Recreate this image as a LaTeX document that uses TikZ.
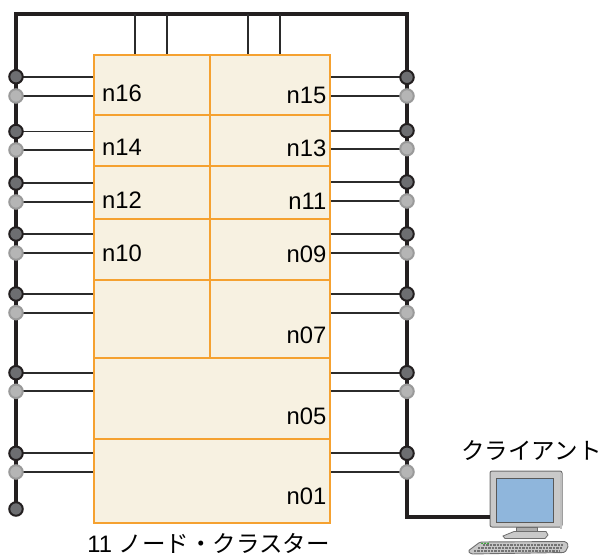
\documentclass[tikz,border=0pt]{standalone}
\usepackage{fontspec}
\setmainfont{Liberation Sans}
\newfontfamily\jpfont{Noto Sans CJK JP}
\definecolor{busc}{HTML}{231F20}
\definecolor{tapc}{HTML}{2B2B2B}
\definecolor{framec}{HTML}{F5A130}
\definecolor{creamc}{HTML}{F7F1E1}
\definecolor{dotdark}{HTML}{6D6E71}
\definecolor{dotlight}{HTML}{B5B5B5}
\definecolor{dotlightedge}{HTML}{9A9A9A}
\definecolor{bezel}{HTML}{C9C9C9}
\definecolor{bezeledge}{HTML}{6E6E6E}
\definecolor{screenc}{HTML}{8FB6DC}
\begin{document}
\begin{tikzpicture}[x=1pt,y=-1pt,
  bus/.style={draw=busc, line width=4.8pt, line join=miter},
  tap/.style={draw=tapc, line width=1.8pt},
  cell/.style={draw=framec, fill=creamc, line width=2.9pt, inner sep=0},
  darkdot/.style={circle, fill=dotdark, draw=busc, line width=2pt, minimum size=13.5pt, inner sep=0},
  lightdot/.style={circle, fill=dotlight, draw=dotlightedge, line width=2pt, minimum size=13.5pt, inner sep=0},
  lbl/.style={font=\fontsize{23.8}{28}\selectfont, inner sep=0},
  jp/.style={font=\fontsize{23.5}{28}\selectfont\jpfont, inner sep=0}]
\useasboundingbox (0,0) rectangle (603,556);

% ---- cluster cells ----
\node[cell, minimum width=116pt, minimum height=60pt] (c16) at (152,85) {};
\node[cell, minimum width=120pt, minimum height=60pt] (c15) at (270,85) {};
\node[cell, minimum width=116pt, minimum height=51pt] (c14) at (152,140.5) {};
\node[cell, minimum width=120pt, minimum height=51pt] (c13) at (270,140.5) {};
\node[cell, minimum width=116pt, minimum height=53pt] (c12) at (152,192.5) {};
\node[cell, minimum width=120pt, minimum height=53pt] (c11) at (270,192.5) {};
\node[cell, minimum width=116pt, minimum height=61pt] (c10) at (152,249.5) {};
\node[cell, minimum width=120pt, minimum height=61pt] (c09) at (270,249.5) {};
\node[cell, minimum width=116pt, minimum height=78pt] (c08) at (152,319) {};
\node[cell, minimum width=120pt, minimum height=78pt] (c07) at (270,319) {};
\node[cell, minimum width=236pt, minimum height=81pt] (c05) at (212,398.5) {};
\node[cell, minimum width=236pt, minimum height=84pt] (c01) at (212,481) {};

% ---- cell labels ----
\node[lbl, anchor=base west] (t16) at (102,102) {n16};
\node[lbl, anchor=base west] (t14) at (102,155.5) {n14};
\node[lbl, anchor=base west] (t12) at (102,208.5) {n12};
\node[lbl, anchor=base west] (t10) at (102,262) {n10};
\node[lbl, anchor=base east] (t15) at (326.5,103.5) {n15};
\node[lbl, anchor=base east] (t13) at (326.5,157) {n13};
\node[lbl, anchor=base east] (t11) at (326.5,210) {n11};
\node[lbl, anchor=base east] (t09) at (326.5,263) {n09};
\node[lbl, anchor=base east] (t07) at (326.5,344) {n07};
\node[lbl, anchor=base east] (t05) at (326.5,424) {n05};
\node[lbl, anchor=base east] (t01) at (326.5,504) {n01};

% ---- network bus ----
\coordinate (topL) at (16,14);
\coordinate (topR) at (407,14);
\coordinate (endL) at (16,509);
\coordinate (bendR) at (407,517);

% tap points on the two bus lines
\foreach \y [count=\i] in {76.7,96,131.5,150,183,202,234,253,294,312.7,372.7,391.3,453.3,472}
  \coordinate (L\i) at (16,\y);
\foreach \y [count=\i] in {77.3,96,130.7,148.7,182,201,234,253,294,312.7,372.7,391.3,453.3,472}
  \coordinate (R\i) at (407,\y);

% ---- client computer ----
\node[draw=bezeledge, fill=bezel, line width=1pt, rounded corners=2pt,
      minimum width=72pt, minimum height=56pt, inner sep=0] (mon) at (526,499) {};
\node[draw=black!65, fill=screenc, line width=0.8pt,
      minimum width=57pt, minimum height=44pt, inner sep=0] (scr) at (524.5,500) {};
\fill[black!25] (mon.north east) ++(-3,2) rectangle ([xshift=-1pt,yshift=-1pt]mon.south east);
\draw[bezeledge, fill=black!32, line width=0.6pt] (516,527.5) rectangle (537,532);
\draw[bezeledge, fill=bezel, line width=0.8pt]
  (514,531.5) -- (546,531.5) -- (548,535) -- (545,538.5) -- (505,538.5) -- (503,536) -- cycle;
\draw[bezeledge, fill=black!22, line width=0.9pt, rounded corners=1.5pt]
  (480,542) -- (566,541.5) -- (568.5,545.5) -- (565,552.5) -- (471,554) -- (468,551) -- cycle;
\foreach \dy/\xa/\xb in {545/483/563, 548/478/562, 551/474/560}
  \draw[black!55, line width=1.3pt, dash pattern=on 2.4pt off 1pt] (\xa,\dy) -- (\xb,\dy);
\fill[green!60!black] (482,543.3) circle (0.8pt) (485,543.3) circle (0.8pt) (488,543.3) circle (0.8pt);

% bus lines
\draw[bus] (endL) -- (topL) -- (topR) -- (bendR) -- (bendR -| mon.west);

% drops from the top bus into the cluster
\foreach \x [count=\i] in {135,167,248,280} {
  \coordinate (d\i) at (\x,14);
  \draw[tap] (d\i) -- (d\i |- c16.north);
}

% taps into the cluster
\foreach \i in {1,...,14} {
  \draw[tap] (L\i) -- (L\i -| c05.west);
  \draw[tap] (R\i) -- (R\i -| c05.east);
}

% connection points
\foreach \i in {1,3,...,13} {
  \node[darkdot] (pL\i) at (L\i) {};
  \node[darkdot] (pR\i) at (R\i) {};
}
\foreach \i in {2,4,...,14} {
  \node[lightdot] (pL\i) at (L\i) {};
  \node[lightdot] (pR\i) at (R\i) {};
}
\node[darkdot] (pLend) at (endL) {};

% ---- captions ----
\node[jp] (client) at (531.5,451) {クライアント};
\node[lbl, anchor=base] (cluster) at (208.5,552.5) {11 {\jpfont\fontsize{23.5}{28}\selectfont ノード・クラスター}};
\end{tikzpicture}
\end{document}
